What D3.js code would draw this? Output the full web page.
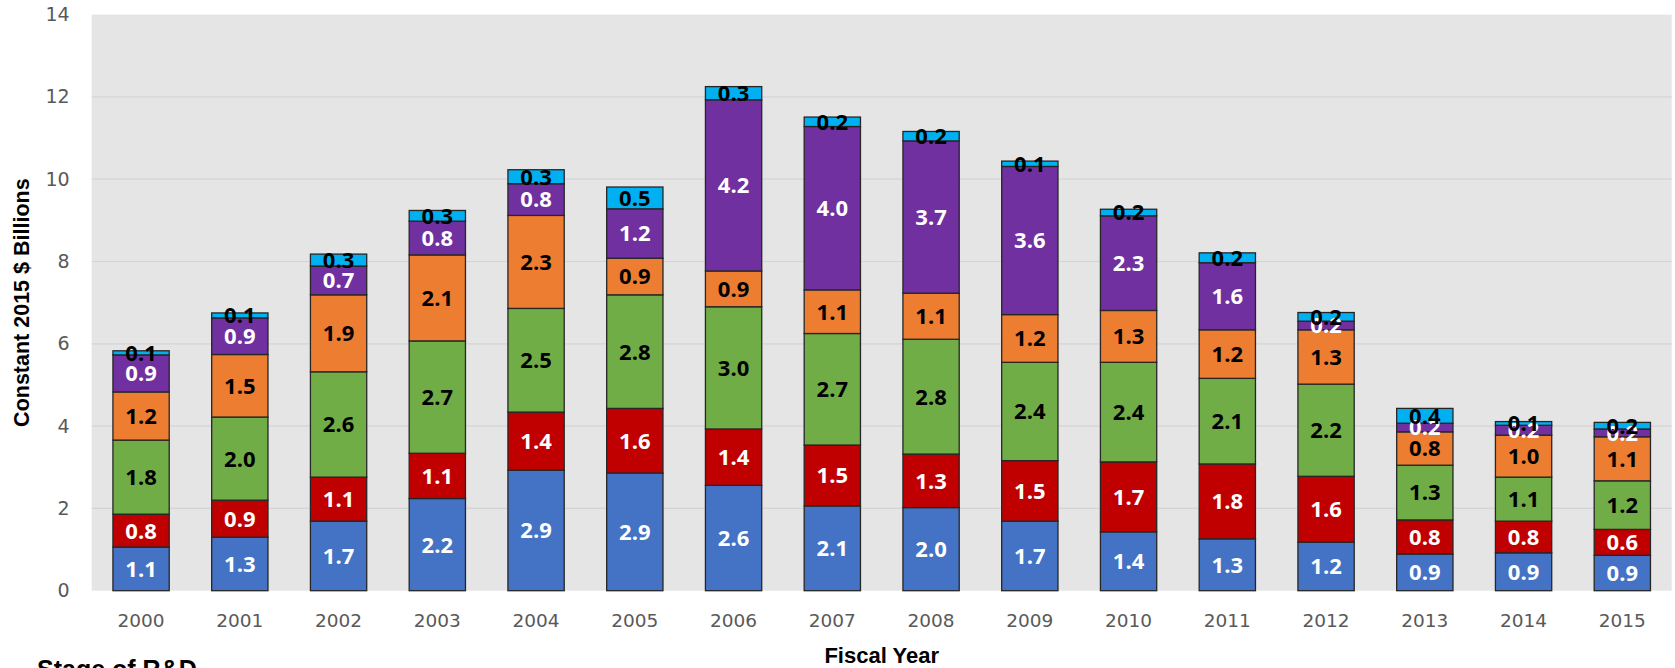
<!DOCTYPE html>
<html>
<head>
<meta charset="utf-8">
<script src="https://cdn.jsdelivr.net/npm/d3@7"></script>
<style>
  html, body { margin: 0; padding: 0; background: #ffffff; }
  svg { display: block; }
</style>
</head>
<body>
<svg id="chart" width="1675" height="668"></svg>
<script>
// ---- Data ----
const years = ["2000","2001","2002","2003","2004","2005","2006","2007","2008","2009","2010","2011","2012","2013","2014","2015"];
// Stacked from bottom (stage1) to top (stage6), constant 2015 $ billions
const stage1 = [1.06, 1.30, 1.69, 2.24, 2.93, 2.86, 2.56, 2.06, 2.02, 1.69, 1.43, 1.26, 1.18, 0.89, 0.92, 0.86];
const stage2 = [0.80, 0.90, 1.07, 1.10, 1.41, 1.57, 1.37, 1.48, 1.30, 1.47, 1.70, 1.82, 1.60, 0.83, 0.77, 0.63];
const stage3 = [1.80, 2.02, 2.56, 2.73, 2.52, 2.76, 2.97, 2.71, 2.79, 2.39, 2.42, 2.08, 2.24, 1.33, 1.07, 1.18];
const stage4 = [1.17, 1.52, 1.87, 2.09, 2.26, 0.89, 0.87, 1.06, 1.12, 1.16, 1.26, 1.18, 1.32, 0.81, 1.02, 1.07];
const stage5 = [0.90, 0.89, 0.70, 0.82, 0.77, 1.20, 4.16, 3.97, 3.70, 3.60, 2.30, 1.63, 0.21, 0.21, 0.24, 0.19];
const stage6 = [0.10, 0.12, 0.29, 0.26, 0.34, 0.53, 0.32, 0.23, 0.23, 0.13, 0.16, 0.24, 0.21, 0.36, 0.09, 0.16];
const yTicks = [0, 2, 4, 6, 8, 10, 12, 14];

const seriesKeys = ["stage1","stage2","stage3","stage4","stage5","stage6"];
const seriesArrays = [stage1, stage2, stage3, stage4, stage5, stage6];
const fillColors = ["#4472C4", "#C00000", "#70AD47", "#ED7D31", "#7030A0", "#00B0F0"];
const labelColors = ["#ffffff", "#ffffff", "#000000", "#000000", "#ffffff", "#000000"];

const table = years.map((y, i) => {
  const row = { year: y };
  seriesKeys.forEach((k, j) => row[k] = seriesArrays[j][i]);
  return row;
});

// ---- Layout ----
const plot = { left: 91.7, right: 1671.7, top: 14.6, bottom: 590.7 };
const svg = d3.select("#chart");

const x = d3.scaleBand().domain(years).range([plot.left, plot.right]).paddingInner(0.43).paddingOuter(0.215);
const y = d3.scaleLinear().domain([0, 14]).range([plot.bottom, plot.top]);

// plot background
svg.append("rect")
  .attr("x", plot.left).attr("y", plot.top)
  .attr("width", plot.right - plot.left).attr("height", plot.bottom - plot.top)
  .attr("fill", "#E5E5E5");

// gridlines
svg.append("g")
  .selectAll("line")
  .data(yTicks.filter(t => t > 0 && t < 14))
  .join("line")
  .attr("x1", plot.left).attr("x2", plot.right)
  .attr("y1", d => y(d)).attr("y2", d => y(d))
  .attr("stroke", "#D4D4D4").attr("stroke-width", 1.2);

// y axis
const yAxis = svg.append("g")
  .attr("transform", `translate(${plot.left},0)`)
  .call(d3.axisLeft(y).tickValues(yTicks).tickSize(0).tickPadding(22));
yAxis.select(".domain").remove();
yAxis.selectAll("text")
  .attr("fill", "#595959")
  .style("font-family", "'DejaVu Sans', sans-serif")
  .style("font-size", "19px");

// x axis
const xAxis = svg.append("g")
  .attr("transform", `translate(0,${plot.bottom})`)
  .call(d3.axisBottom(x).tickSize(0).tickPadding(23));
xAxis.select(".domain").remove();
xAxis.selectAll("text")
  .attr("fill", "#595959")
  .style("font-family", "'DejaVu Sans', sans-serif")
  .style("font-size", "18.5px");

// stacked bars
const stacked = d3.stack().keys(seriesKeys)(table);

const layers = svg.append("g").selectAll("g.layer")
  .data(stacked)
  .join("g")
  .attr("class", "layer")
  .attr("fill", (d, i) => fillColors[i]);

layers.selectAll("rect")
  .data(d => d)
  .join("rect")
  .attr("x", d => x(d.data.year))
  .attr("width", x.bandwidth())
  .attr("y", d => y(d[1]))
  .attr("height", d => y(d[0]) - y(d[1]))
  .attr("stroke", "#262626")
  .attr("stroke-width", 1.3);

// data labels
const fmt = d3.format(".1f");
const labelLayers = svg.append("g").selectAll("g.lbl")
  .data(stacked)
  .join("g")
  .attr("class", "lbl")
  .attr("fill", (d, i) => labelColors[i]);

labelLayers.selectAll("text")
  .data(d => d.map(p => ({ p, key: d.key })))
  .join("text")
  .attr("x", d => x(d.p.data.year) + x.bandwidth() / 2)
  .attr("y", d => (y(d.p[0]) + y(d.p[1])) / 2)
  .attr("dy", "0.36em")
  .attr("text-anchor", "middle")
  .style("font-family", "'Open Sans', sans-serif")
  .style("font-weight", "bold")
  .style("font-size", "22px")
  .text(d => fmt(d.p.data[d.key]));

// axis titles
svg.append("text")
  .attr("transform", `translate(21,${(y(0) + y(14)) / 2 + 0}) rotate(-90)`)
  .attr("text-anchor", "middle")
  .attr("dy", "0.36em")
  .style("font-family", "'Liberation Sans', Arial, sans-serif")
  .style("font-weight", "bold")
  .style("font-size", "21.5px")
  .attr("fill", "#000")
  .text("Constant 2015 $ Billions");

svg.append("text")
  .attr("x", (plot.left + plot.right) / 2)
  .attr("y", 663)
  .attr("text-anchor", "middle")
  .style("font-family", "'Liberation Sans', Arial, sans-serif")
  .style("font-weight", "bold")
  .style("font-size", "22px")
  .attr("fill", "#000")
  .text("Fiscal Year");

// legend title (cut off at the bottom edge in the reference)
svg.append("text")
  .attr("x", 37)
  .attr("y", 678)
  .style("font-family", "'Liberation Sans', Arial, sans-serif")
  .style("font-weight", "bold")
  .style("font-size", "25px")
  .attr("fill", "#000")
  .text("Stage of R&D");
</script>
</body>
</html>
